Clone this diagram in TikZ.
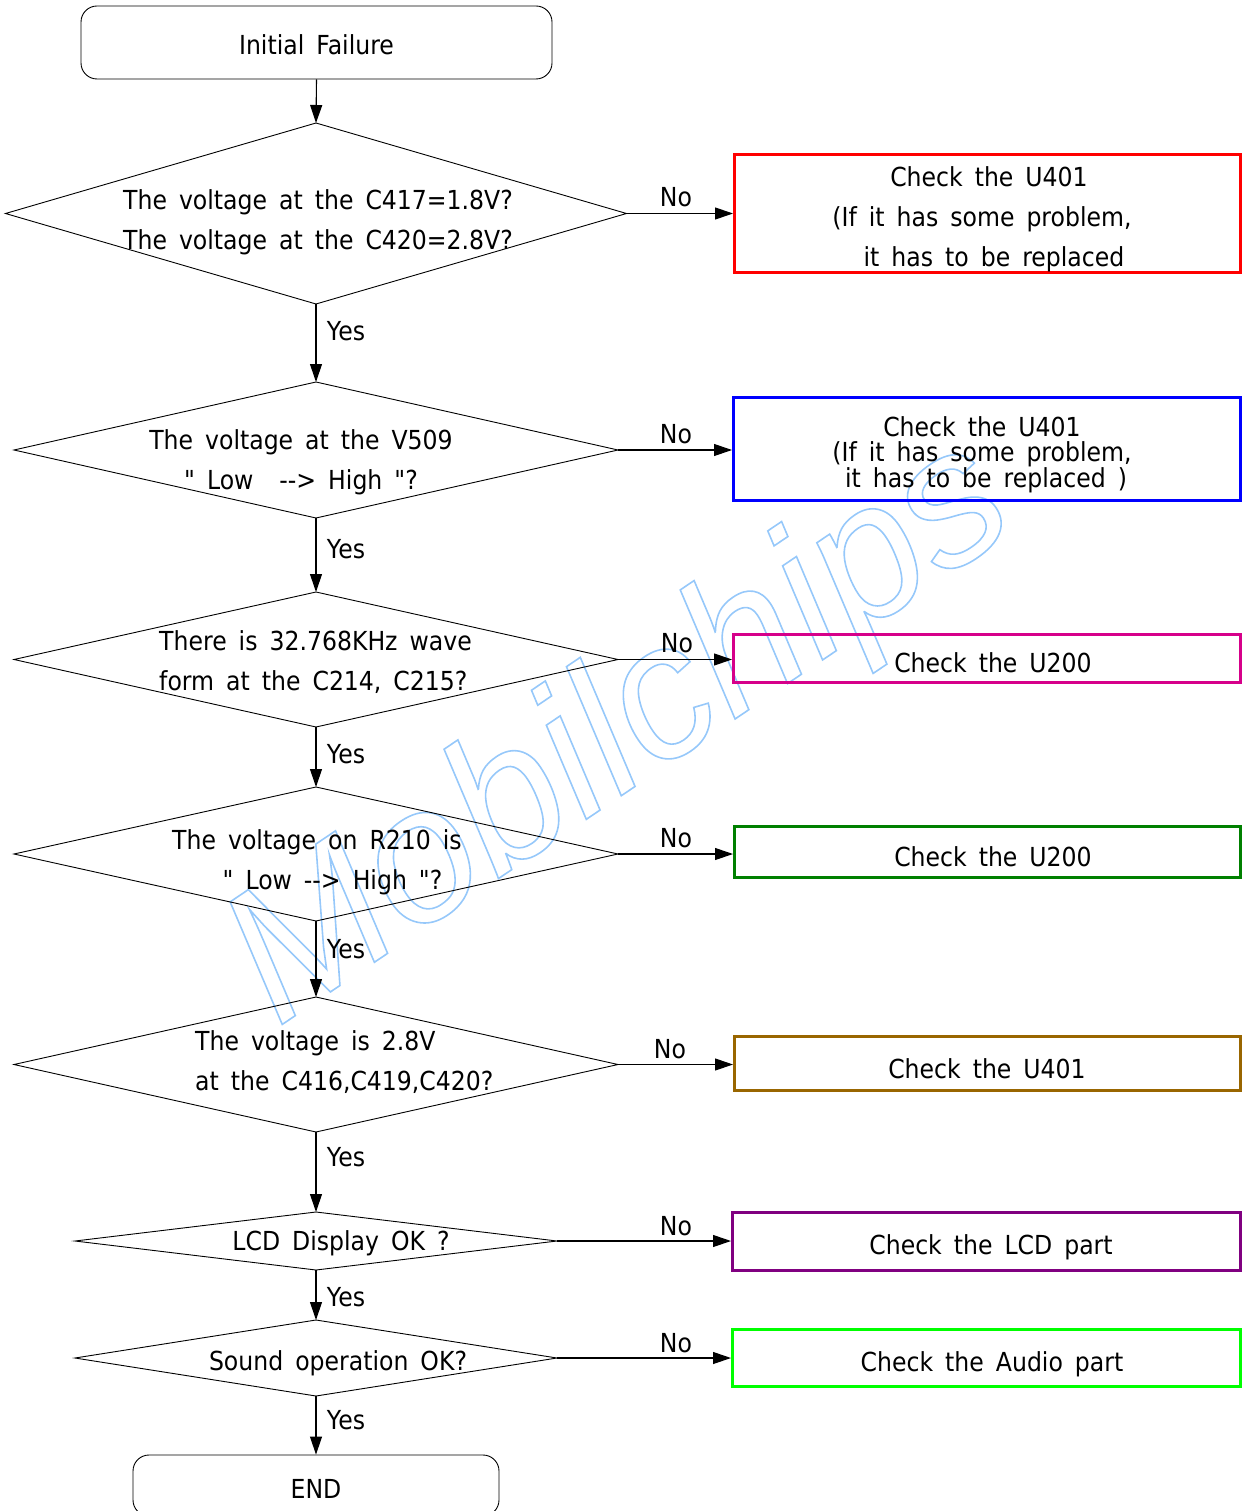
\documentclass[tikz,border=0pt]{standalone}
\usepackage{fontspec}
\newfontfamily\mainff{DejaVu Sans}[FakeStretch=0.9, WordSpace=1.6]
\newfontfamily\wmfont{Liberation Sans}
\usetikzlibrary{shapes.geometric,arrows.meta}
\definecolor{cmag}{RGB}{214,0,138}
\definecolor{cgreen}{RGB}{0,128,0}
\definecolor{cbrown}{RGB}{153,102,0}
\definecolor{cpurple}{RGB}{128,0,128}
\definecolor{clime}{RGB}{0,255,0}
\definecolor{wmblue}{RGB}{150,200,250}
\newcommand{\fsz}{\mainff\fontsize{26.2}{40}\selectfont}
\newcommand{\fszt}{\mainff\fontsize{26.2}{24.5}\selectfont}
\tikzset{
  thin line/.style={line width=1.1pt},
  arr/.style={thin line, -{Triangle[length=18pt,width=12pt]}},
  dec/.style={diamond, draw, line width=0.9pt, inner sep=0pt, outer sep=0pt},
  chk/.style={rectangle, draw, line width=3pt, inner sep=0pt},
  term/.style={rectangle, rounded corners=16pt, draw, line width=0.9pt, font=\fsz, text height=25pt, text depth=0pt},
  lbl/.style={font=\fsz, inner sep=0pt},
}
\begin{document}
\begin{tikzpicture}[x=1pt,y=-1pt]
\useasboundingbox (0,0) rectangle (1242,1511);
% watermark
\node[rotate=34, text=wmblue, inner sep=0pt, font=\wmfont\itshape\fontsize{190}{190}\selectfont] (wm) at (622,736)
  {\special{pdf:literal direct 1 Tr 1.6 w}Mobilchips\special{pdf:literal direct 0 Tr}};
% terminals
\node[term, minimum width=471, minimum height=73] (start) at (316.5,42.5) {Initial Failure};
\node[term, minimum width=366, minimum height=61] (end) at (316,1485.5) {END};
% decisions
\node[dec, minimum width=621, minimum height=181] (d1) at (316,213.5) {};
\node[dec, minimum width=604, minimum height=136] (d2) at (316,450) {};
\node[dec, minimum width=604, minimum height=135] (d3) at (316,659.5) {};
\node[dec, minimum width=604, minimum height=134] (d4) at (316,854) {};
\node[dec, minimum width=604, minimum height=135] (d5) at (316,1064.5) {};
\node[dec, minimum width=482, minimum height=58] (d6) at (316,1241) {};
\node[dec, minimum width=482, minimum height=76] (d7) at (316,1358) {};
% decision texts
\node[lbl, align=left, anchor=west] (t1) at (123,222) {The voltage at the C417=1.8V?\\The voltage at the C420=2.8V?};
\node[lbl, align=center] (t2) at (301,462) {The voltage at the V509\\" Low\hspace{14pt} -\kern0pt-> High "?};
\node[lbl, align=left, anchor=west] (t3) at (159,662) {There is 32.768KHz wave\\form at the C214, C215?};
\node[lbl, align=center] (t4) at (317,862) {The voltage on R210 is\\\hspace{31pt}" Low -\kern0pt-> High "?};
\node[lbl, align=left, anchor=west] (t5) at (195,1062) {The voltage is 2.8V\\at the C416,C419,C420?};
\node[lbl] (t6) at (341,1243) {LCD Display OK ?};
\node[lbl] (t7) at (338,1363) {Sound operation OK?};
% check boxes
\node[chk, draw=red, minimum width=505.5, minimum height=118] (b1) at (987.25,213.5) {};
\node[chk, draw=blue, minimum width=506.5, minimum height=103] (b2) at (986.75,449) {};
\node[chk, draw=cmag, minimum width=506.5, minimum height=48] (b3) at (986.75,658.5) {};
\node[chk, draw=cgreen, minimum width=505.5, minimum height=51] (b4) at (987.25,852) {};
\node[chk, draw=cbrown, minimum width=505.5, minimum height=54] (b5) at (987.25,1063.5) {};
\node[chk, draw=cpurple, minimum width=507.5, minimum height=58] (b6) at (986.25,1241.5) {};
\node[chk, draw=clime, minimum width=507.5, minimum height=57] (b7) at (986.25,1358) {};
% check box texts
\node[lbl, align=center] (c1) at (989,219) {Check the U401\\\hspace{-14pt}(If it has some problem,\\\hspace{10pt}it has to be replaced};
\node[lbl, align=center, font=\fszt] (c2) at (982,455) {Check the U401\\(If it has some problem,\\\hspace{8pt}it has to be replaced )};
\node[lbl] (c3) at (993,663) {Check the U200};
\node[lbl] (c4) at (993,857) {Check the U200};
\node[lbl] (c5) at (987,1069) {Check the U401};
\node[lbl] (c6) at (991,1247) {Check the LCD part};
\node[lbl] (c7) at (992,1364) {Check the Audio part};
% yes labels
\node[lbl] (y1) at (346,331) {Yes};
\node[lbl] (y2) at (346,549) {Yes};
\node[lbl] (y3) at (346,754) {Yes};
\node[lbl] (y4) at (346,949) {Yes};
\node[lbl] (y5) at (346,1157) {Yes};
\node[lbl] (y6) at (346,1297) {Yes};
\node[lbl] (y7) at (346,1420) {Yes};
% no labels
\node[lbl] (n1) at (676,197) {No};
\node[lbl] (n2) at (676,434) {No};
\node[lbl] (n3) at (677,643) {No};
\node[lbl] (n4) at (676,838) {No};
\node[lbl] (n5) at (670,1049) {No};
\node[lbl] (n6) at (676,1226) {No};
\node[lbl] (n7) at (676,1343) {No};
% vertical connectors
\draw[arr] (start.south) -- (d1.north);
\draw[arr] (d1.south) -- (d2.north);
\draw[arr] (d2.south) -- (d3.north);
\draw[arr] (d3.south) -- (d4.north);
\draw[arr] (d4.south) -- (d5.north);
\draw[arr] (d5.south) -- (d6.north);
\draw[arr] (d6.south) -- (d7.north);
\draw[arr] (d7.south) -- (end.north);
% horizontal connectors
\draw[arr] (d1.east) -- (d1.east -| b1.west);
\draw[arr] (d2.east) -- (d2.east -| b2.west);
\draw[arr] (d3.east) -- (d3.east -| b3.west);
\draw[arr] (d4.east) -- (d4.east -| b4.west);
\draw[arr] (d5.east) -- (d5.east -| b5.west);
\draw[arr] (d6.east) -- (d6.east -| b6.west);
\draw[arr] (d7.east) -- (d7.east -| b7.west);
\end{tikzpicture}
\end{document}
